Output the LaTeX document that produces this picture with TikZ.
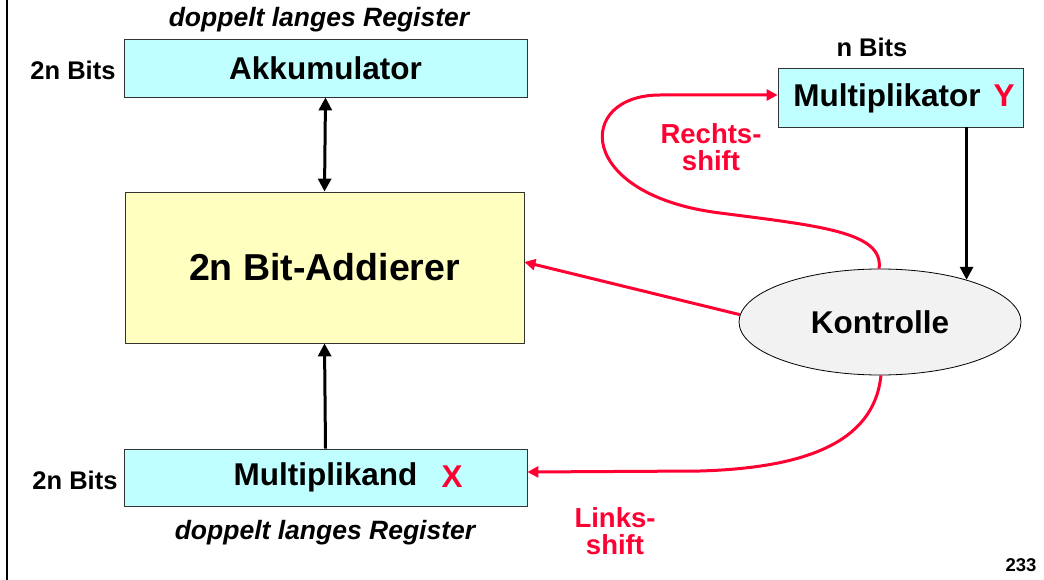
\documentclass[tikz,border=0pt]{standalone}
\usepackage{fontspec}
\setmainfont{Liberation Sans}
\usetikzlibrary{shapes.geometric,arrows.meta}
\definecolor{regcyan}{RGB}{192,255,255}
\definecolor{addyellow}{RGB}{255,255,192}
\definecolor{ctrlgray}{RGB}{242,242,242}
\definecolor{shiftred}{RGB}{255,0,51}
\tikzset{
  reg/.style={draw=black!80, line width=0.8pt, fill=regcyan, inner sep=0pt},
  adder/.style={draw=black!80, line width=0.8pt, fill=addyellow, inner sep=0pt},
  ctrl/.style={ellipse, draw=black, line width=0.8pt, fill=ctrlgray, inner sep=0pt},
  maintxt/.style={font=\fontsize{31.5}{33}\selectfont\bfseries},
  sidetxt/.style={font=\fontsize{25.5}{27}\selectfont\bfseries},
  regtxt/.style={font=\fontsize{26.5}{28}\selectfont\bfseries\itshape},
  redtxt/.style={font=\fontsize{27.5}{27}\selectfont\bfseries, text=shiftred, align=center},
  blkarrow/.style={line width=3pt, -{Triangle[length=13pt,width=13pt]}},
  redarrow/.style={line width=3pt, draw=shiftred, -{Triangle[length=11pt,width=11pt]}},
}
\begin{document}
\begin{tikzpicture}[x=1pt,y=-1pt]
\useasboundingbox (0,0) rectangle (1044,580);
\draw[line width=2pt] (7,0) -- (7,580);
% registers
\node[reg, minimum width=403pt, minimum height=58pt, maintxt] (akk) at (325.5,68) {Akkumulator};
\node[adder, minimum width=399pt, minimum height=151pt, font=\fontsize{37.5}{39}\selectfont\bfseries] (add) at (324.5,267.5) {2n Bit-Addierer};
\node[reg, minimum width=403pt, minimum height=57pt, maintxt] (mand) at (325.5,477.5) {Multiplikand};
\node[maintxt, text=shiftred] (xlab) at (452,477) {X};
\node[reg, minimum width=245pt, minimum height=59pt] (mtor) at (900.5,97.5) {};
\node[maintxt] (mtortxt) at (887,98) {Multiplikator};
\node[maintxt, text=shiftred] (ylab) at (1004,96) {Y};
\node[ctrl, minimum width=282pt, minimum height=106pt, maintxt] (k) at (880,322) {Kontrolle};
% labels
\node[regtxt] (regtop) at (319,20) {doppelt langes Register};
\node[regtxt] (regbot) at (325,533) {doppelt langes Register};
\node[sidetxt] (bitsA) at (73,70) {2n Bits};
\node[sidetxt] (bitsM) at (75,480) {2n Bits};
\node[sidetxt] (bitsY) at (872,47) {n Bits};
\node[redtxt] (rs) at (711,147) {Rechts-\\shift};
\node[redtxt] (ls) at (615,531) {Links-\\shift};
\node[font=\fontsize{18.5}{20}\selectfont\bfseries] (pg) at (1021,565) {233};
% connectors
\draw[line width=3pt, {Triangle[length=13pt,width=13pt]}-{Triangle[length=13pt,width=13pt]}] (akk.south) -- (add.north);
\draw[blkarrow] (mand.north) -- (add.south);
\draw[blkarrow] (mtor.south -| k.26.5) -- (k.26.5);
\draw[redarrow] (k.177) -- (add.east |- 0,262);
\draw[redarrow] (k.91) .. controls (884,232) and (820,226) .. (720,213) .. controls (575,195) and (575,95) .. (660,95) -- (mtor.west |- 0,95);
\draw[redarrow] (k.-89) .. controls (874,445) and (800,468) .. (700,471) -- (mand.east |- 0,472);
\end{tikzpicture}
\end{document}
